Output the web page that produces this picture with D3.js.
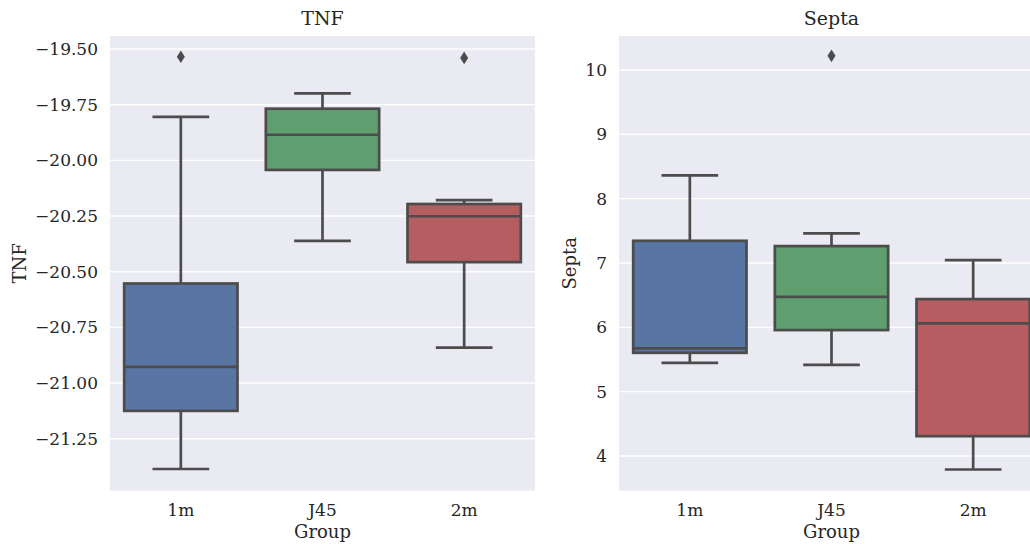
<!DOCTYPE html>
<html>
<head>
<meta charset="utf-8">
<script src="https://cdn.jsdelivr.net/npm/d3@7"></script>
<style>
  html, body { margin: 0; padding: 0; background: #ffffff; }
  svg { display: block; }
  text { font-family: "DejaVu Serif", serif; fill: #262626; }
</style>
</head>
<body>
<svg id="chart" width="1030" height="544"></svg>
<script>
// ---------------- data ----------------
const categories = ["1m", "J45", "2m"];
const boxColors = ["#5875a4", "#5f9e6e", "#b55d60"];

// TNF
const tnfWhiskerLow  = [-21.386, -20.362, -20.841];
const tnfQ1          = [-21.125, -20.043, -20.457];
const tnfMedian      = [-20.927, -19.885, -20.251];
const tnfQ3          = [-20.553, -19.768, -20.196];
const tnfWhiskerHigh = [-19.805, -19.699, -20.179];
const tnfOutliers    = [[-19.535], [], [-19.540]];
const tnfTicks       = [-19.5, -19.75, -20.0, -20.25, -20.5, -20.75, -21.0, -21.25];

// Septa
const septaWhiskerLow  = [5.448, 5.417, 3.790];
const septaQ1          = [5.604, 5.957, 4.308];
const septaMedian      = [5.672, 6.474, 6.061];
const septaQ3          = [7.345, 7.263, 6.439];
const septaWhiskerHigh = [8.362, 7.460, 7.045];
const septaOutliers    = [[], [10.22], []];
const septaTicks       = [4, 5, 6, 7, 8, 9, 10];

// ---------------- drawing ----------------
const svg = d3.select("#chart");
const plotTop = 36, plotBottom = 490.7;
const lineColor = "#4c4c4c";
const lw = 2.7;

function panel(opts) {
  const g = svg.append("g");
  const x = d3.scaleBand().domain(categories).range([opts.x0, opts.x1]).paddingInner(0).paddingOuter(0);
  const y = d3.scaleLinear().domain(opts.domain).range([plotBottom, plotTop]);

  // background
  g.append("rect")
    .attr("x", opts.x0).attr("y", plotTop)
    .attr("width", opts.x1 - opts.x0).attr("height", plotBottom - plotTop)
    .attr("fill", "#eaeaf2");

  // grid
  g.append("g").selectAll("line").data(opts.ticks).join("line")
    .attr("x1", opts.x0).attr("x2", opts.x1)
    .attr("y1", d => y(d)).attr("y2", d => y(d))
    .attr("stroke", "#ffffff").attr("stroke-width", 1.4);

  // y tick labels
  g.append("g").selectAll("text").data(opts.ticks).join("text")
    .attr("x", opts.x0 - 12).attr("y", d => y(d))
    .attr("dy", "0.35em")
    .attr("text-anchor", "end")
    .attr("font-size", 17)
    .text(opts.fmt);

  // x tick labels
  g.append("g").selectAll("text").data(categories).join("text")
    .attr("x", d => x(d) + x.bandwidth() / 2).attr("y", 516)
    .attr("text-anchor", "middle")
    .attr("font-size", 17)
    .text(d => d);

  // axis labels & title
  const cx = (opts.x0 + opts.x1) / 2;
  g.append("text").attr("x", cx).attr("y", 538).attr("text-anchor", "middle")
    .attr("font-size", 18).text("Group");
  g.append("text").attr("x", cx).attr("y", 25).attr("text-anchor", "middle")
    .attr("font-size", 19).text(opts.title);
  g.append("text")
    .attr("transform", `translate(${opts.ylabelX},${(plotTop + plotBottom) / 2}) rotate(-90)`)
    .attr("text-anchor", "middle").attr("font-size", 18).text(opts.title);

  const bw = x.bandwidth() * 0.8;
  const capW = bw * 0.5;
  const s = opts.stats;

  categories.forEach((c, i) => {
    const cxi = x(c) + x.bandwidth() / 2;
    const bg = g.append("g");
    // whiskers
    bg.append("line").attr("x1", cxi).attr("x2", cxi)
      .attr("y1", y(s.q3[i])).attr("y2", y(s.hi[i]))
      .attr("stroke", lineColor).attr("stroke-width", lw);
    bg.append("line").attr("x1", cxi).attr("x2", cxi)
      .attr("y1", y(s.q1[i])).attr("y2", y(s.lo[i]))
      .attr("stroke", lineColor).attr("stroke-width", lw);
    // caps
    [s.hi[i], s.lo[i]].forEach(v => {
      bg.append("line").attr("x1", cxi - capW / 2).attr("x2", cxi + capW / 2)
        .attr("y1", y(v)).attr("y2", y(v))
        .attr("stroke", lineColor).attr("stroke-width", lw);
    });
    // box
    bg.append("rect")
      .attr("x", cxi - bw / 2).attr("y", y(s.q3[i]))
      .attr("width", bw).attr("height", y(s.q1[i]) - y(s.q3[i]))
      .attr("fill", boxColors[i])
      .attr("stroke", lineColor).attr("stroke-width", lw);
    // median
    bg.append("line").attr("x1", cxi - bw / 2).attr("x2", cxi + bw / 2)
      .attr("y1", y(s.med[i])).attr("y2", y(s.med[i]))
      .attr("stroke", lineColor).attr("stroke-width", lw);
    // outliers (thin diamonds)
    s.out[i].forEach(v => {
      const py = y(v);
      bg.append("path")
        .attr("d", `M${cxi},${py - 6.3} L${cxi + 4},${py} L${cxi},${py + 6.3} L${cxi - 4},${py} Z`)
        .attr("fill", lineColor);
    });
  });
}

const minusFmt = d => d3.format(".2f")(d).replace("-", "\u2212");

panel({
  x0: 110, x1: 535,
  domain: [-21.4834, -19.4416],
  ticks: tnfTicks,
  fmt: minusFmt,
  title: "TNF",
  ylabelX: 26,
  stats: { lo: tnfWhiskerLow, q1: tnfQ1, med: tnfMedian, q3: tnfQ3, hi: tnfWhiskerHigh, out: tnfOutliers }
});

panel({
  x0: 619, x1: 1044,
  domain: [3.4606, 10.5285],
  ticks: septaTicks,
  fmt: d => String(d),
  title: "Septa",
  ylabelX: 576,
  stats: { lo: septaWhiskerLow, q1: septaQ1, med: septaMedian, q3: septaQ3, hi: septaWhiskerHigh, out: septaOutliers }
});
</script>
</body>
</html>
